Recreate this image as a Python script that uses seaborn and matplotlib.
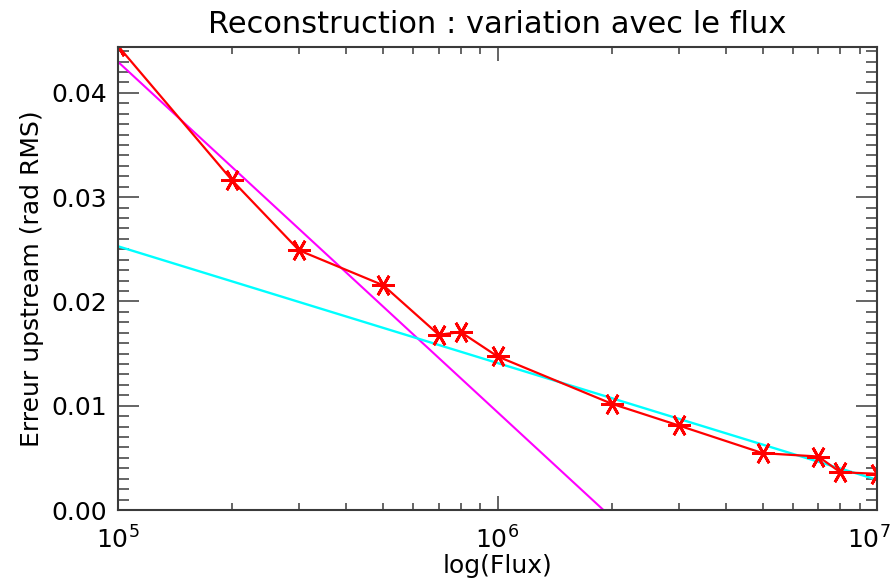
import matplotlib
matplotlib.use("Agg")
import matplotlib.pyplot as plt
import matplotlib.transforms as mtransforms
import numpy as np
import seaborn as sns
from matplotlib.ticker import MultipleLocator, LogLocator, NullFormatter


FLUX = [1e5, 2e5, 3e5, 5e5, 7e5, 8e5, 1e6, 2e6, 3e6, 5e6, 7e6, 8e6, 1e7]
ERREUR = [0.0445, 0.0316, 0.0249, 0.02155, 0.01681, 0.01706, 0.01473,
          0.01019, 0.00811, 0.00545, 0.00513, 0.00363, 0.00347]

# fit lines (straight in log x), end points
MAGENTA_X = [1e5, 1e7]
MAGENTA_Y = [0.04298, -0.02422]
CYAN_X = [1e5, 1e7]
CYAN_Y = [0.02529, 0.0029]

TITLE = "Reconstruction : variation avec le flux"
XLABEL = "log(Flux)"
YLABEL = "Erreur upstream (rad RMS)"
YTICKS = [0.0, 0.01, 0.02, 0.03, 0.04]
FRAME = "#3a3a3a"


def main():
    sns.set_style("ticks")
    plt.rcParams["font.family"] = ["DejaVu Sans"]
    plt.rcParams["text.color"] = "black"
    plt.rcParams["axes.labelcolor"] = "black"

    fig = plt.figure(figsize=(8.96, 5.84), dpi=100)
    ax = fig.add_axes([0.1317, 0.1267, 0.8471, 0.7928])

    sns.lineplot(x=MAGENTA_X, y=MAGENTA_Y, ax=ax, color="#ff00ff", linewidth=1.5)
    sns.lineplot(x=CYAN_X, y=CYAN_Y, ax=ax, color="#00ffff", linewidth=1.7)
    sns.lineplot(x=FLUX, y=ERREUR, ax=ax, color="#ff0000", linewidth=1.6,
                 marker=(6, 2, 90), markersize=16, markeredgewidth=2.0,
                 markeredgecolor="#ff0000")

    ax.set_xscale("log")
    ax.set_xlim(1e5, 1e7)
    ax.set_ylim(0.0, 0.0444)
    ax.set_yticks(YTICKS)
    ax.set_yticklabels([f"{v:.2f}" for v in YTICKS])
    ax.yaxis.set_minor_locator(MultipleLocator(0.001))
    ax.xaxis.set_minor_locator(LogLocator(base=10, subs=np.arange(2, 10)))
    ax.xaxis.set_minor_formatter(NullFormatter())

    for s in ax.spines.values():
        s.set_visible(True)
        s.set_color(FRAME)
        s.set_linewidth(1.5)

    ax.tick_params(axis="both", which="both", direction="in", top=True,
                   right=True, color=FRAME, width=1.1, labelsize=18,
                   labelcolor="black")
    ax.tick_params(axis="y", which="major", length=15, pad=8)
    ax.tick_params(axis="y", which="minor", length=8)
    ax.tick_params(axis="x", which="major", length=10, pad=12)
    ax.tick_params(axis="x", which="minor", length=5)

    ax.set_title(TITLE, fontsize=22, pad=10)
    ax.set_xlabel(XLABEL, fontsize=18, labelpad=0)
    ax.set_ylabel(YLABEL, fontsize=18, labelpad=5)

    # keep the last x label inside the figure
    fig.canvas.draw()
    last = ax.get_xticklabels()[-1]
    shift = mtransforms.ScaledTranslation(-8 / 100, 0, fig.dpi_scale_trans)
    for lab in ax.get_xticklabels():
        if lab.get_position()[0] >= 1e7:
            lab.set_transform(lab.get_transform() + shift)

    fig.savefig("out.png", dpi=100)


if __name__ == "__main__":
    main()
